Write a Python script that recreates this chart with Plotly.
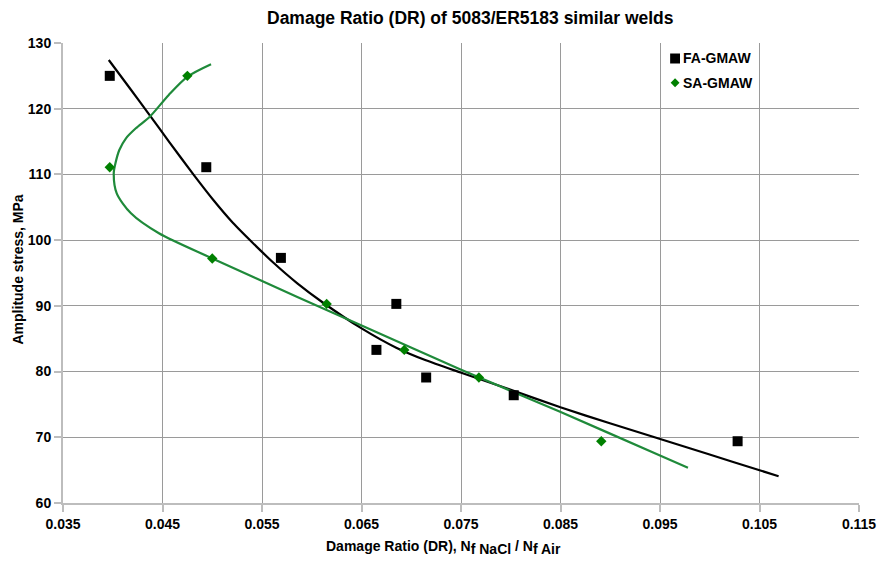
import plotly.graph_objects as go

# Measured points: damage ratio (Nf NaCl / Nf Air) vs stress amplitude (MPa)
fa_dr = [0.0397, 0.0494, 0.0569, 0.0685, 0.0665, 0.0715, 0.0803, 0.1028]
fa_stress = [125.0, 111.1, 97.3, 90.3, 83.3, 79.1, 76.4, 69.4]

sa_dr = [0.0475, 0.0397, 0.0500, 0.0615, 0.0693, 0.0768, 0.0891]
sa_stress = [125.0, 111.1, 97.2, 90.3, 83.3, 79.1, 69.4]

# Fitted trend curves (sampled along each curve)
fa_fit_dr = [0.03960, 0.04166, 0.04365, 0.04563, 0.04812, 0.05011, 0.05209,
             0.05408, 0.05607, 0.05855, 0.06104, 0.06501, 0.06849, 0.07147,
             0.07495, 0.07972, 0.08499, 0.08996, 0.09494, 0.09991, 0.10493,
             0.10692]
fa_fit_stress = [127.41, 123.23, 119.15, 115.04, 109.97, 106.11, 102.61,
                 99.57, 96.67, 93.43, 90.59, 86.57, 83.63, 81.71,
                 79.86, 77.38, 74.56, 72.13, 69.77, 67.41, 65.02,
                 64.08]

sa_fit_dr = [0.04988, 0.04752, 0.04563, 0.04372, 0.04232, 0.04133, 0.04066,
             0.04027, 0.04010, 0.04040, 0.04183, 0.04464, 0.05001, 0.05855,
             0.06501, 0.07495, 0.08496, 0.09494, 0.09781]
sa_fit_stress = [126.76, 124.87, 122.09, 118.78, 117.02, 115.50, 113.72,
                 111.69, 110.17, 107.13, 104.08, 101.04, 97.21, 91.35,
                 87.01, 80.31, 73.88, 67.26, 65.37]

x_ticks = [0.035, 0.045, 0.055, 0.065, 0.075, 0.085, 0.095, 0.105, 0.115]
y_ticks = [60, 70, 80, 90, 100, 110, 120, 130]

series_names = ["FA-GMAW", "SA-GMAW"]

FONT = "Arial, Liberation Sans, sans-serif"
BLACK = "#000000"
GREEN_MARK = "#008000"
GREEN_LINE = "#1f8a3a"
GRID = "#9a9a9a"
AXIS = "#bdbdbd"

W, H = 888, 563
ML, MR, MT, MB = 63, 20, 43, 60
PW, PH = W - ML - MR, H - MT - MB


def px_x(px):
    return (px - ML) / PW


def px_y(py):
    return (H - MB - py) / PH


fig = go.Figure()

fig.add_trace(go.Scatter(
    x=fa_fit_dr, y=fa_fit_stress, mode="lines",
    line=dict(color=BLACK, width=2.2, shape="spline", smoothing=0.6),
    showlegend=False, hoverinfo="skip"))
fig.add_trace(go.Scatter(
    x=sa_fit_dr, y=sa_fit_stress, mode="lines",
    line=dict(color=GREEN_LINE, width=2.2, shape="spline", smoothing=0.8),
    showlegend=False, hoverinfo="skip"))
fig.add_trace(go.Scatter(
    x=fa_dr, y=fa_stress, mode="markers", name=series_names[0],
    marker=dict(symbol="square", size=10, color=BLACK), showlegend=False))
fig.add_trace(go.Scatter(
    x=sa_dr, y=sa_stress, mode="markers", name=series_names[1],
    marker=dict(symbol="diamond", size=8, color=GREEN_MARK), showlegend=False))

axis_common = dict(
    showgrid=True, gridcolor=GRID, gridwidth=1,
    showline=True, linecolor=AXIS, linewidth=2, mirror=False,
    ticks="outside", ticklen=7, tickcolor=AXIS, tickwidth=1.5,
    tickfont=dict(family=FONT, size=14, color="#000000", weight="bold"),
    zeroline=False,
)

fig.update_xaxes(range=[0.035, 0.115], tickvals=x_ticks,
                 ticktext=[f"{v:.3f}" for v in x_ticks], **axis_common)
fig.update_yaxes(range=[60, 130], tickvals=y_ticks,
                 ticktext=[str(v) for v in y_ticks], **axis_common)

annotations = [
    # chart title
    dict(text="Damage Ratio (DR) of 5083/ER5183 similar welds",
         xref="paper", yref="paper", x=px_x(475.5), y=px_y(18.5),
         xanchor="center", yanchor="middle", showarrow=False,
         font=dict(family=FONT, size=17.5, color="#000000", weight="bold")),
    # x axis title (subscripts kept at full size)
    dict(text="Damage Ratio (DR), N<sub><span style='font-size:14px'>f NaCl</span></sub>"
              " / N<sub><span style='font-size:14px'>f Air</span></sub>",
         xref="paper", yref="paper", x=px_x(447.7), y=px_y(547),
         xanchor="center", yanchor="middle", showarrow=False,
         font=dict(family=FONT, size=14, color="#000000", weight="bold")),
    # y axis title
    dict(text="Amplitude stress, MPa", textangle=-90,
         xref="paper", yref="paper", x=px_x(17), y=px_y(270),
         xanchor="center", yanchor="middle", showarrow=False,
         font=dict(family=FONT, size=14, color="#000000", weight="bold")),
    # legend labels
    dict(text=series_names[0], xref="paper", yref="paper",
         x=px_x(688), y=px_y(58.5), xanchor="left", yanchor="middle",
         showarrow=False,
         font=dict(family=FONT, size=14, color="#000000", weight="bold")),
    dict(text=series_names[1], xref="paper", yref="paper",
         x=px_x(688), y=px_y(82.8), xanchor="left", yanchor="middle",
         showarrow=False,
         font=dict(family=FONT, size=14, color="#000000", weight="bold")),
]

# legend symbols
lx, ly1, ly2 = 682, 58.5, 82.8
shapes = [
    dict(type="rect", xref="paper", yref="paper",
         x0=px_x(lx - 5), x1=px_x(lx + 5), y0=px_y(ly1 + 5), y1=px_y(ly1 - 5),
         fillcolor=BLACK, line=dict(width=0)),
    dict(type="path", xref="paper", yref="paper",
         path=(f"M {px_x(lx - 4.5)} {px_y(ly2)} L {px_x(lx)} {px_y(ly2 - 4.5)} "
               f"L {px_x(lx + 4.5)} {px_y(ly2)} L {px_x(lx)} {px_y(ly2 + 4.5)} Z"),
         fillcolor=GREEN_MARK, line=dict(width=0)),
]

fig.update_layout(
    width=W, height=H,
    margin=dict(l=ML, r=MR, t=MT, b=MB, pad=0),
    paper_bgcolor="#ffffff", plot_bgcolor="#ffffff",
    showlegend=False,
    annotations=annotations, shapes=shapes,
    font=dict(family=FONT),
)

fig.write_html("out.html")
